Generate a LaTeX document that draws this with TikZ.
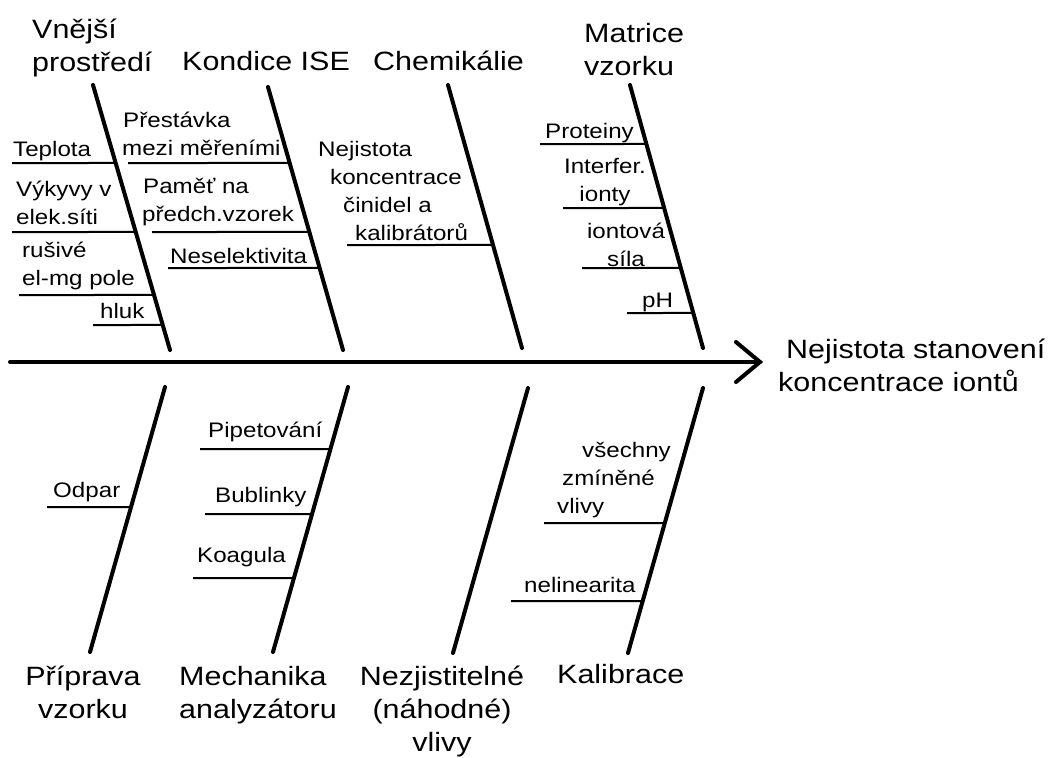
\documentclass[tikz,border=0pt]{standalone}
\usepackage{fontspec}
\setmainfont{Liberation Sans}[FakeStretch=1.15]
\newcommand\catfont{\fontsize{26.5}{33}\selectfont}
\newcommand\subfont{\fontsize{21}{28}\selectfont}
\newcommand\Lt[1]{\begin{tabular}[t]{@{}l@{}}#1\end{tabular}}
\newcommand\Ct[1]{\begin{tabular}[t]{@{}c@{}}#1\end{tabular}}
\newcommand\twig[3]{%
  \coordinate (#1) at (#2);
  \path (#1) ++(500,0) coordinate (#1r);
  \draw[twigline] (#1) -- (intersection of #1--#1r and #3t--#3b);
}
\tikzset{
  cat/.style={font=\catfont, inner sep=0pt},
  sub/.style={font=\subfont, inner sep=0pt},
  boneline/.style={line width=4pt, line cap=round},
  twigline/.style={line width=2pt},
}
\begin{document}
\begin{tikzpicture}[x=1pt,y=-1pt]
\useasboundingbox (0,0) rectangle (1050,758);
\fill[white] (0,0) rectangle (1050,758);

% spine
\coordinate (S0) at (10,362);
\coordinate (S1) at (760,362);
\coordinate (A1) at (736,342);
\coordinate (A2) at (736,382);
\draw[boneline] (S0) -- (S1);
\draw[boneline, line join=miter] (A1) -- (S1) -- (A2);

% bones
\coordinate (B1t) at (93,85);   \coordinate (B1b) at (170,350);
\coordinate (B2t) at (268,87);  \coordinate (B2b) at (343,350);
\coordinate (B3t) at (448,85);  \coordinate (B3b) at (522,348);
\coordinate (B4t) at (630,85);  \coordinate (B4b) at (703,348);
\coordinate (L1t) at (165,387); \coordinate (L1b) at (90,652);
\coordinate (L2t) at (348,387); \coordinate (L2b) at (273,652);
\coordinate (L3t) at (528,388); \coordinate (L3b) at (453,653);
\coordinate (L4t) at (703,388); \coordinate (L4b) at (628,653);
\foreach \b in {B1,B2,B3,B4,L1,L2,L3,L4}
  \draw[boneline] (\b t) -- (\b b);

% twigs
\twig{w1}{12,163}{B1}
\twig{w2}{12,232}{B1}
\twig{w3}{19,295}{B1}
\twig{w4}{93,325}{B1}
\twig{w5}{128,163}{B2}
\twig{w6}{152,232}{B2}
\twig{w7}{168,268}{B2}
\twig{w8}{347,245}{B3}
\twig{w9}{540,144}{B4}
\twig{w10}{563,208}{B4}
\twig{w11}{582,268}{B4}
\twig{w12}{627,313}{B4}
\twig{w13}{47,507}{L1}
\twig{w14}{200,449}{L2}
\twig{w15}{205,514}{L2}
\twig{w16}{193,578}{L2}
\twig{w17}{544,523}{L4}
\twig{w18}{511,601}{L4}

% category labels
\node[cat, anchor=base west] (c1) at (32,38) {\Lt{Vnější\\prostředí}};
\node[cat, anchor=base west] (c2) at (182,70) {Kondice ISE};
\node[cat, anchor=base west] (c3) at (373,70) {Chemikálie};
\node[cat, anchor=base west] (c4) at (584,42) {\Lt{Matrice\\vzorku}};
\node[cat, anchor=base west] (c5) at (778,358) {\Lt{\hspace*{8pt}Nejistota stanovení\\koncentrace iontů}};
\node[cat, anchor=base] (c6) at (83,685) {\Ct{Příprava\\vzorku}};
\node[cat, anchor=base west] (c7) at (179,685) {\Lt{Mechanika\\analyzátoru}};
\node[cat, anchor=base] (c8) at (442,685) {\Ct{Nezjistitelné\\(náhodné)\\vlivy}};
\node[cat, anchor=base west] (c9) at (557,683) {Kalibrace};

% cause labels
\node[sub, anchor=base west] (t1) at (13,156) {Teplota};
\node[sub, anchor=base west] (t2) at (16,196) {\Lt{Výkyvy v\\elek.síti}};
\node[sub, anchor=base west] (t3) at (22,257) {\Lt{rušivé\\el-mg pole}};
\node[sub, anchor=base west] (t4) at (100,318) {hluk};
\node[sub, anchor=base west] (t5) at (122,127) {\Lt{\hspace*{1pt}Přestávka\\mezi měřeními}};
\node[sub, anchor=base west] (t6) at (142,193) {\Lt{\hspace*{1pt}Paměť na\\předch.vzorek}};
\node[sub, anchor=base west] (t7) at (170,263) {Neselektivita};
\node[sub, anchor=base west] (t8) at (318,156) {\Lt{Nejistota\\\hspace*{12pt}koncentrace\\\hspace*{25pt}činidel a\\\hspace*{37pt}kalibrátorů}};
\node[sub, anchor=base west] (t9) at (545,138) {Proteiny};
\node[sub, anchor=base] (t10) at (605,173) {\Ct{Interfer.\\ionty}};
\node[sub, anchor=base] (t11) at (626,238) {\Ct{iontová\\síla}};
\node[sub, anchor=base west] (t12) at (642,307) {pH};
\node[sub, anchor=base west] (t13) at (53,497) {Odpar};
\node[sub, anchor=base west] (t14) at (208,437) {Pipetování};
\node[sub, anchor=base west] (t15) at (215,502) {Bublinky};
\node[sub, anchor=base west] (t16) at (197,562) {Koagula};
\node[sub, anchor=base west] (t17) at (557,457) {\Lt{\hspace*{25pt}všechny\\\hspace*{5pt}zmíněné\\vlivy}};
\node[sub, anchor=base west] (t18) at (524,592) {nelinearita};
\end{tikzpicture}
\end{document}
